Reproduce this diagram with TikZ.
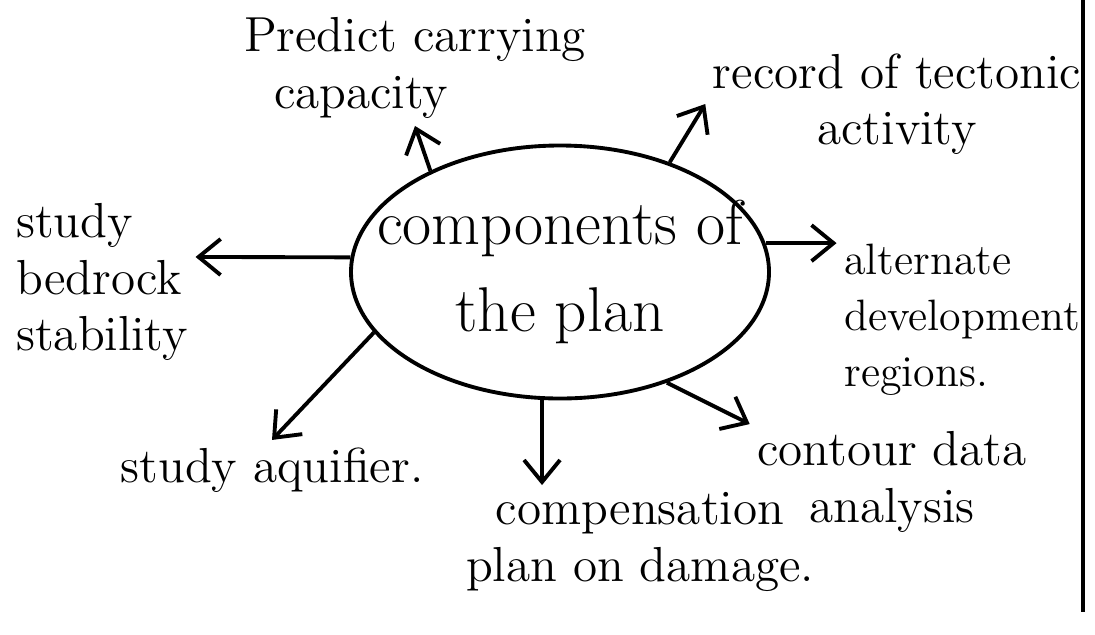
\documentclass[tikz,border=0pt]{standalone}
\usepackage{tikz}
\usetikzlibrary{arrows.meta}
\usetikzlibrary{shapes.geometric}

\begin{document}
\begin{tikzpicture}
\tikzstyle{every node}=[inner sep=2pt,font=\fontsize{14}{16}\selectfont]
\tikzstyle{branch}=[line width=1.1pt,-{Straight Barb[length=2.2mm,width=3.6mm,line width=1.1pt]}]
\useasboundingbox (0,0) rectangle (10.95,6.34);
\node[ellipse,draw,line width=1.1pt,minimum width=4.18cm,minimum height=2.53cm] (plan) at (5.60,3.62) {};
\node[font=\fontsize{18}{25}\selectfont,align=center] (plantext) at (plan) {components of\\the plan};
\node[align=left] (predict) at (4.15,5.66) {Predict carrying\\\hspace{0.3cm}capacity};
\node[align=center] (tectonic) at (8.97,5.30) {record of tectonic\\activity};
\node[align=left,font=\fontsize{12.5}{16}\selectfont] (alternate) at (9.62,3.14) {alternate\\development\\regions.};
\node[align=left] (bedrock) at (1.02,3.52) {study\\bedrock\\stability};
\node (aquifier) at (2.72,1.64) {study aquifier.};
\node[align=center] (compensation) at (6.40,0.92) {compensation\\plan on damage.};
\node[align=center] (contour) at (8.92,1.52) {contour data\\analysis};
\draw[branch] (plan.142) -- (predict.south);
\draw[branch] (plan.45) -- (tectonic.west);
\draw[branch] (plan.176) -- (bedrock.15);
\draw[branch] (plan.8) -- (plan.8 -| alternate.west);
\draw[branch] (plan.198) -- (aquifier.north);
\draw[branch] (plan.262) -- (plan.262 |- compensation.north);
\draw[branch] (plan.314) -- (contour.north west);
\draw[line width=1.4pt] (10.83,6.34) -- (10.83,0.22);
\end{tikzpicture}
\end{document}
